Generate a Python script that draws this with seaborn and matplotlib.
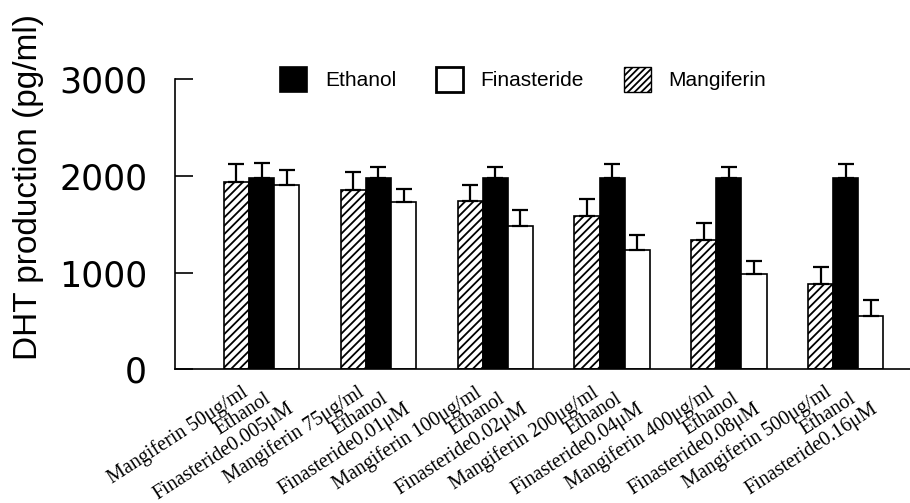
import numpy as np
import pandas as pd
import matplotlib
matplotlib.use('Agg')
import matplotlib.pyplot as plt
from matplotlib.patches import Patch
import seaborn as sns

# values (pg/ml), error = upper SD
mang_labels = ['Mangiferin 50μg/ml', 'Mangiferin 75μg/ml', 'Mangiferin 100μg/ml',
               'Mangiferin 200μg/ml', 'Mangiferin 400μg/ml', 'Mangiferin 500μg/ml']
eth_labels = ['Ethanol'] * 6
fin_labels = ['Finasteride0.005μM', 'Finasteride0.01μM', 'Finasteride0.02μM',
              'Finasteride0.04μM', 'Finasteride0.08μM', 'Finasteride0.16μM']

mangiferin = [1940, 1860, 1745, 1585, 1340, 885]
mang_err = [180, 182, 160, 173, 172, 172]
ethanol = [1980, 1980, 1980, 1980, 1980, 1980]
eth_err = [158, 117, 117, 142, 117, 142]
finasteride = [1905, 1730, 1485, 1235, 985, 550]
fin_err = [158, 131, 158, 155, 138, 166]

groups = ['G1', 'G2', 'G3', 'G4', 'G5', 'G6']
series = ['Mangiferin', 'Ethanol', 'Finasteride']

df = pd.DataFrame({
    'group': groups * 3,
    'treatment': ['Mangiferin'] * 6 + ['Ethanol'] * 6 + ['Finasteride'] * 6,
    'value': mangiferin + ethanol + finasteride,
})
errs = [mang_err, eth_err, fin_err]
tick_text = [mang_labels, eth_labels, fin_labels]

sns.set_style('white')
plt.rcParams['font.family'] = ['Liberation Sans', 'DejaVu Sans']
plt.rcParams['hatch.linewidth'] = 1.3
plt.rcParams['text.color'] = 'black'
plt.rcParams['axes.labelcolor'] = 'black'
plt.rcParams['ytick.color'] = 'black'

fig = plt.figure(figsize=(9.1, 5.03), dpi=100)
ax = fig.add_axes([0.1923, 0.2658, 0.8077, 0.5765])

palette = {'Mangiferin': 'white', 'Ethanol': 'black', 'Finasteride': 'white'}
sns.barplot(data=df, x='group', y='value', hue='treatment', hue_order=series,
            palette=palette, width=0.645, gap=0, errorbar=None,
            edgecolor='black', linewidth=1.2, legend=False, ax=ax)

hatches = ['////', '', '']
# per-series shift of the slanted bar labels (points)
label_shift = [(3, -9.5), (2.2, -14.5), (0, -21.5)]
bar_sets = list(ax.containers)
for i, cont in enumerate(bar_sets):
    for bar, e, lab in zip(cont, errs[i], tick_text[i]):
        bar.set_hatch(hatches[i])
        x = bar.get_x() + bar.get_width() / 2
        h = bar.get_height()
        ax.errorbar(x, h, yerr=[[0], [e]], fmt='none', ecolor='black',
                    elinewidth=1.6, capsize=5.5, capthick=1.6, zorder=3)
        ax.annotate(lab, xy=(x, 0), xycoords=('data', 'axes fraction'),
                    xytext=label_shift[i], textcoords='offset points',
                    rotation=33, rotation_mode='anchor', ha='right', va='top',
                    fontsize=14.5, color='black',
                    family=['Liberation Serif', 'DejaVu Serif'],
                    annotation_clip=False)

ax.set_xticks([])
ax.set_xlim(-0.741, 5.55)
ax.set_ylim(0, 3000)
ax.set_yticks([0, 1000, 2000, 3000])
ax.tick_params(axis='y', left=True, direction='in', length=13, width=1.2, pad=20,
               labelsize=25, color='black', labelcolor='black')
for t in ax.get_yticklabels():
    t.set_fontfamily(['DejaVu Sans'])

ax.set_xlabel('')
ax.set_ylabel('DHT production (pg/ml)', fontsize=24, color='black')
ax.yaxis.set_label_coords(-0.178, 0.629)

sns.despine(ax=ax)
for side in ['left', 'bottom']:
    ax.spines[side].set_color('black')
    ax.spines[side].set_linewidth(1.2)

handles = [Patch(facecolor='black', edgecolor='black', linewidth=1.2),
           Patch(facecolor='white', edgecolor='black', linewidth=2.0),
           Patch(facecolor='white', edgecolor='black', linewidth=1.0, hatch='/////')]
fig.legend(handles, ['Ethanol', 'Finasteride', 'Mangiferin'], ncol=3, frameon=False,
           loc='center', bbox_to_anchor=(0.575, 0.842), fontsize=15,
           handlelength=1.3, handleheight=1.4, handletextpad=0.85,
           columnspacing=1.9)

fig.savefig('out.png', dpi=100)
